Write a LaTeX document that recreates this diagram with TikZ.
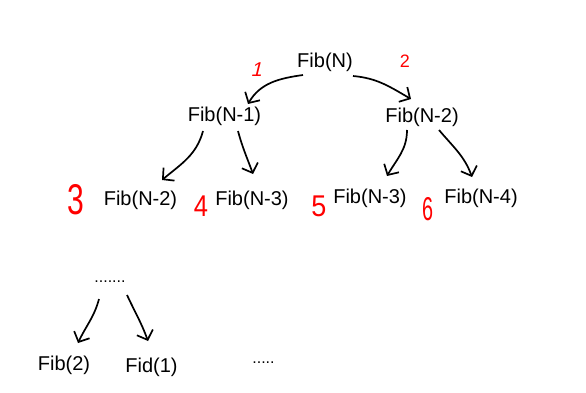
\documentclass[tikz,border=0pt]{standalone}
\usepackage{fontspec}
\setmainfont{Liberation Sans}
\usetikzlibrary{arrows.meta}
\begin{document}
\begin{tikzpicture}[x=1pt,y=1pt,
  lbl/.style={anchor=base,inner sep=0pt,font=\fontsize{20}{24}\selectfont},
  dotlbl/.style={anchor=base,inner sep=0pt,font=\fontsize{16}{20}\selectfont},
  num/.style={inner sep=0pt,text=red},
  arr/.style={line width=1.7pt,-{Straight Barb[length=8pt,width=17pt,line width=1.7pt]}}]
\useasboundingbox (0,0) rectangle (586,-393);
\fill[white] (0,0) rectangle (586,-393);
% nodes
\node[lbl] (fibN)  at (325,-68)   {Fib(N)};
\node[lbl] (fibN1) at (224.5,-122) {Fib(N-1)};
\node[lbl] (fibN2) at (422,-123)  {Fib(N-2)};
\node[lbl] (fibN2L) at (140.5,-205) {Fib(N-2)};
\node[lbl] (fibN3L) at (252,-205) {Fib(N-3)};
\node[lbl] (fibN3R) at (370,-203) {Fib(N-3)};
\node[lbl] (fibN4) at (481,-203)  {Fib(N-4)};
\node[dotlbl] (dotsA) at (110,-282) {.......};
\node[lbl] (fib2) at (64,-370) {Fib(2)};
\node[lbl] (fid1) at (151.5,-372) {Fid(1)};
\node[dotlbl] (dotsB) at (263.5,-363) {.....};
% red numbers
\node[num,font=\fontsize{20}{22}\selectfont,xslant=0.25] (n1) at (258,-70) {1};
\node[num,font=\fontsize{18}{20}\selectfont] (n2) at (405,-61) {2};
\node[num,font=\fontsize{43}{46}\selectfont,xscale=0.7] (n3) at (76,-200) {3};
\node[num,font=\fontsize{30}{32}\selectfont,xscale=0.85] (n4) at (201,-206) {4};
\node[num,font=\fontsize{30}{32}\selectfont,xscale=0.9] (n5) at (319,-206) {5};
\node[num,font=\fontsize{33}{36}\selectfont,xscale=0.6] (n6) at (427.5,-209) {6};
% connectors
\draw[arr] ([shift={(-22,-7)}]fibN.base) to[out=188,in=60] ([shift={(23.5,18)}]fibN1.base);
\draw[arr] ([shift={(28,-8)}]fibN.base) to[out=-5,in=150] ([shift={(-11,24)}]fibN2.base);
\draw[arr] ([shift={(-21.5,-9)}]fibN1.base) to[out=-105,in=40] ([shift={(21.5,25)}]fibN2L.base);
\draw[arr] ([shift={(13.5,-9)}]fibN1.base) to[out=-75,in=110] ([shift={(1,31)}]fibN3L.base);
\draw[arr] ([shift={(-15,-7)}]fibN2.base) to[out=-90,in=60] ([shift={(17,27)}]fibN3R.base);
\draw[arr] ([shift={(17,-7)}]fibN2.base) to[out=-50,in=110] ([shift={(-9,26)}]fibN4.base);
\draw[arr] ([shift={(-11,-17)}]dotsA.base) to[out=-105,in=65] ([shift={(14,27)}]fib2.base);
\draw[arr] ([shift={(17,-13)}]dotsA.base) to[out=-65,in=110] ([shift={(-3.5,31)}]fid1.base);
\end{tikzpicture}
\end{document}
